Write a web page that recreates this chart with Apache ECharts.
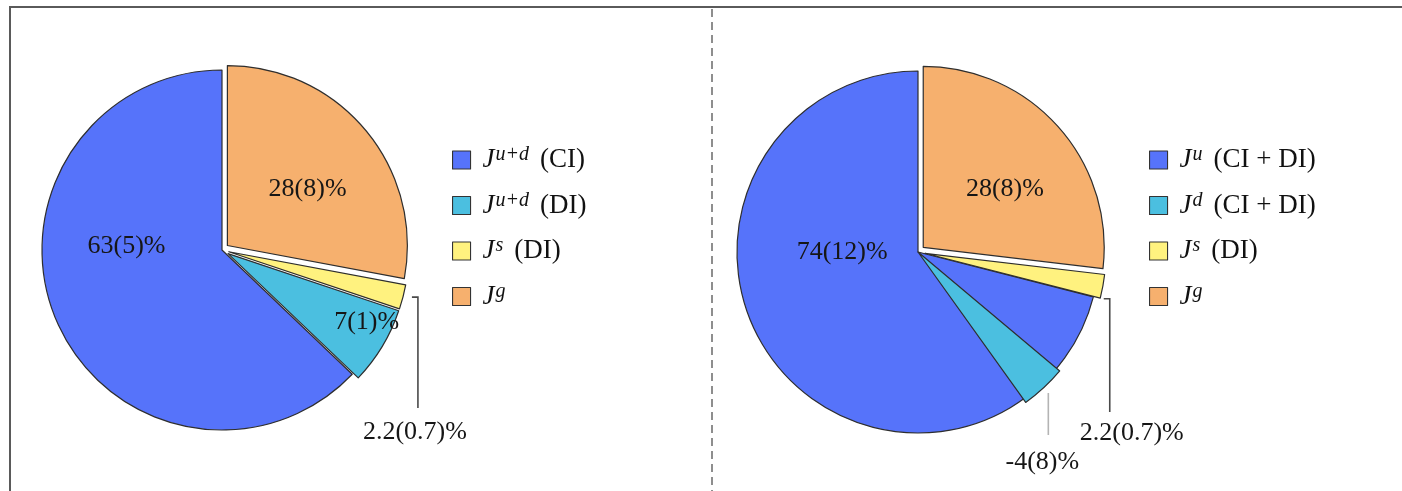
<!DOCTYPE html>
<html>
<head>
<meta charset="utf-8">
<script src="https://cdn.jsdelivr.net/npm/echarts@6/dist/echarts.min.js"></script>
<style>
  html, body { margin: 0; padding: 0; background: #fff; }
  #chart { width: 1402px; height: 491px; }
</style>
</head>
<body>
<div id="chart"></div>
<script>
// Left panel: u+d split into connected / disconnected insertions
const leftNames = ['J^{u+d} (CI)', 'J^{u+d} (DI)', 'J^s (DI)', 'J^g'];
const leftValues = [63, 7, 2.2, 28];
const leftErrors = [5, 1, 0.7, 8];

// Right panel: u and d flavours separately
const rightNames = ['J^u (CI + DI)', 'J^d (CI + DI)', 'J^s (DI)', 'J^g'];
const rightValues = [74, -4, 2.2, 28];
const rightErrors = [12, 8, 0.7, 8];

const sliceColors = ['#5673fa', '#4bbfe0', '#fff27f', '#f6b06e'];

// ---- layout ----
const PIE_L = { center: [222, 250], radius: 180 };
const PIE_R = { center: [918, 252], radius: 181 };
const SERIF = 'Liberation Serif';
const LABEL_SIZE = 26;

// nudges for labels that sit inside their slices (by category index)
const insideNudge = {
  left: { 0: [-10, -40], 1: [65, 24], 3: [14, -1] },
  right: { 0: [-2, -57], 3: [17, -1] }
};

// leader lines for labels placed below the pies (keyed by series index)
const leaders = {
  2: { pie: PIE_R, dx: -12, topDy: -10, bottom: 183, labelDx: -6, labelDy: 29, tick: false, color: '#b4b4b4' },
  3: { pie: PIE_L, dx: 19, topDy: -10, bottom: 158, labelDx: -3, labelDy: 2, tick: true, color: '#4a4a4a' },
  4: { pie: PIE_R, dx: 12, topDy: 2, bottom: 160, labelDx: 22, labelDy: 0, tick: true, color: '#4a4a4a' }
};

function labelText(p) {
  return p.data.signed + '(' + p.data.err + ')%';
}

function leaderLayout(p) {
  const cfg = leaders[p.seriesIndex];
  if (!cfg || !p.rect) return;
  const item = option.series[p.seriesIndex].data[p.dataIndex];
  if (!item || !item.labelLine || !item.labelLine.show) return;
  const right = p.rect.x + p.rect.width;
  const bottom = p.rect.y + p.rect.height;
  const x = right + cfg.dx;
  const top = bottom + cfg.topDy;
  const yEnd = cfg.pie.center[1] + cfg.bottom;
  return {
    x: x + cfg.labelDx,
    y: cfg.pie.center[1] + cfg.pie.radius + cfg.labelDy,
    align: 'center',
    verticalAlign: 'middle',
    labelLinePoints: [[cfg.tick ? x - 6 : x, top], [x, top], [x, yEnd]]
  };
}

function pieBase(pie) {
  return {
    type: 'pie',
    center: pie.center,
    radius: pie.radius,
    startAngle: 90,
    clockwise: true,
    avoidLabelOverlap: false,
    silent: true,
    animation: false,
    itemStyle: { borderColor: '#2e2e2e', borderWidth: 1.2 },
    emphasis: { scale: false },
    label: {
      position: 'inside',
      formatter: labelText,
      fontFamily: SERIF,
      fontSize: LABEL_SIZE,
      color: '#161616'
    },
    labelLine: { show: false, length: 10, length2: 10 },
    labelLayout: leaderLayout
  };
}

// slices drawn with their colours; the exploded ones are "selected"
function slice(names, values, errors, i) {
  return {
    name: names[i],
    value: Math.abs(values[i]),
    signed: values[i],
    err: errors[i],
    selected: i !== 0,
    itemStyle: { color: sliceColors[i] }
  };
}

// transparent twin of a slice that carries its value label
function labelSlice(names, values, errors, i, side, leaderIdx) {
  const item = {
    name: names[i],
    value: Math.abs(values[i]),
    signed: values[i],
    err: errors[i],
    itemStyle: { color: 'rgba(0,0,0,0)', borderWidth: 0 }
  };
  if (leaderIdx != null) {
    item.label = { position: 'outside' };
    item.labelLine = { show: true, lineStyle: { color: leaders[leaderIdx].color, width: 1.6 } };
  } else {
    item.label = { offset: insideNudge[side][i] };
  }
  return item;
}

// clockwise from twelve o'clock: gluon, strange, disconnected, connected
const leftOrder = [3, 2, 1, 0];
const rightOrder = [3, 2, 0];

const leftData = leftOrder.map(i => slice(leftNames, leftValues, leftErrors, i));
const rightData = rightOrder.map(i => slice(rightNames, rightValues, rightErrors, i));

const leftLabels = leftOrder.map(i =>
  labelSlice(leftNames, leftValues, leftErrors, i, 'left', i === 2 ? 3 : null));
const rightLabels = rightOrder.map(i =>
  labelSlice(rightNames, rightValues, rightErrors, i, 'right', i === 2 ? 4 : null));

// the negative d-quark share is drawn as a wedge cut into the u slice
const dIdx = 1;
const dWedge = Math.abs(rightValues[dIdx]);
const dWedgeData = [
  {
    name: rightNames[dIdx],
    value: dWedge,
    signed: rightValues[dIdx],
    err: rightErrors[dIdx],
    itemStyle: { color: sliceColors[dIdx] },
    label: { position: 'outside' },
    labelLine: { show: true, lineStyle: { color: leaders[2].color, width: 1.6 } }
  },
  {
    name: '', value: 100 - dWedge,
    itemStyle: { color: 'rgba(0,0,0,0)', borderWidth: 0 },
    label: { show: false }, labelLine: { show: false }
  }
];

function legendText(name) {
  const m = name.match(/^J\^\{?([^}\s]+)\}?\s*(.*)$/);
  return '{j|J}{sup|' + m[1] + '}' + (m[2] ? '{t|' + m[2] + '}' : '');
}

const legendRich = {
  j: { fontFamily: SERIF, fontStyle: 'italic', fontSize: 27, lineHeight: 30, color: '#111', padding: [0, 1, 0, 7] },
  sup: { fontFamily: SERIF, fontStyle: 'italic', fontSize: 20, lineHeight: 6, verticalAlign: 'top', color: '#111' },
  t: { fontFamily: SERIF, fontSize: 27, lineHeight: 30, color: '#111', padding: [0, 0, 0, 11] }
};

function legendFor(names, left) {
  return {
    data: names,
    orient: 'vertical',
    left: left,
    top: 145,
    padding: 0,
    itemWidth: 18,
    itemHeight: 18,
    itemGap: 17,
    icon: 'rect',
    selectedMode: false,
    itemStyle: { borderColor: '#333', borderWidth: 1.1 },
    formatter: legendText,
    textStyle: { rich: legendRich }
  };
}

const hiddenLabels = { label: { show: false }, labelLine: { show: false } };

const option = {
  backgroundColor: '#fff',
  animation: false,
  legend: [legendFor(leftNames, 452), legendFor(rightNames, 1149)],
  graphic: [
    { type: 'line', shape: { x1: 9, y1: 7, x2: 1402, y2: 7 }, style: { stroke: '#5a5a5a', lineWidth: 2 } },
    { type: 'line', shape: { x1: 10, y1: 7, x2: 10, y2: 491 }, style: { stroke: '#5a5a5a', lineWidth: 2 } },
    { type: 'line', shape: { x1: 712, y1: 9, x2: 712, y2: 491 }, style: { stroke: '#6a6a6a', lineWidth: 1.5, lineDash: [8, 5] } }
  ],
  series: [
    Object.assign(pieBase(PIE_L), hiddenLabels, {
      name: 'left', selectedMode: 'multiple', selectedOffset: 7, data: leftData
    }),
    Object.assign(pieBase(PIE_R), hiddenLabels, {
      name: 'right', selectedMode: 'multiple', selectedOffset: 7, data: rightData
    }),
    Object.assign(pieBase({ center: PIE_R.center, radius: PIE_R.radius + 4 }), {
      name: 'd-wedge', startAngle: -40, data: dWedgeData
    }),
    Object.assign(pieBase(PIE_L), { name: 'left-labels', z: 3, data: leftLabels }),
    Object.assign(pieBase(PIE_R), { name: 'right-labels', z: 3, data: rightLabels })
  ]
};

const chart = echarts.init(document.getElementById('chart'), null, { renderer: 'canvas' });
chart.setOption(option);
</script>
</body>
</html>
